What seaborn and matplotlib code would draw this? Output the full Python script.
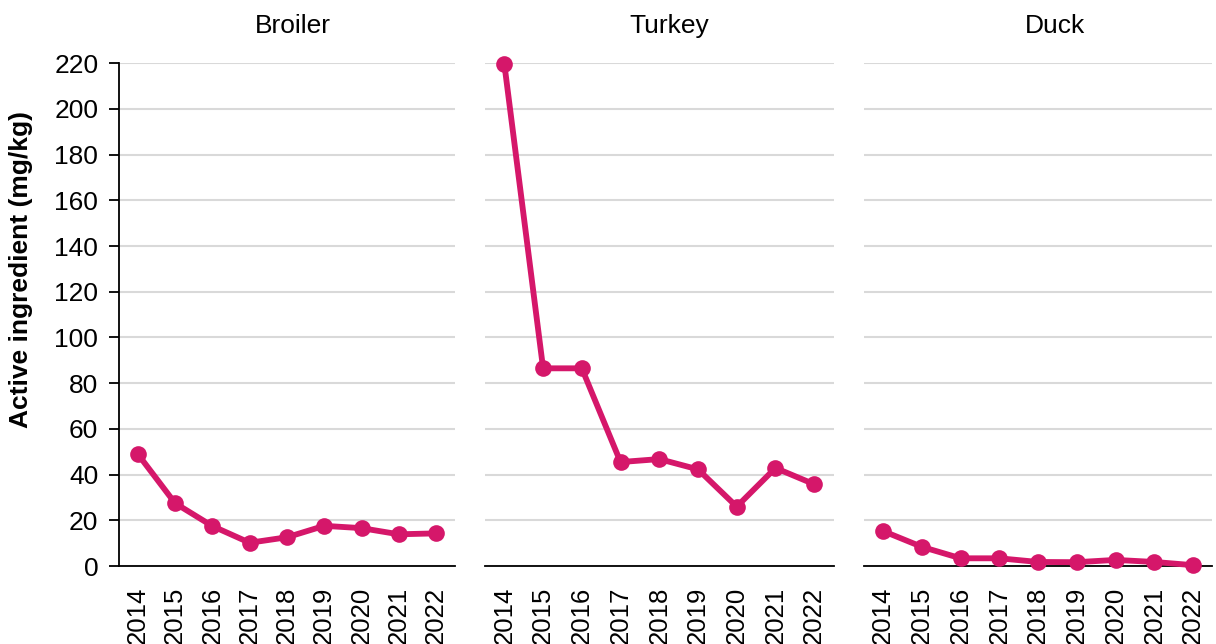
import numpy as np
import pandas as pd
import seaborn as sns
import matplotlib.pyplot as plt
from matplotlib.ticker import FixedLocator

years = [2014, 2015, 2016, 2017, 2018, 2019, 2020, 2021, 2022]
species = ['Broiler', 'Turkey', 'Duck']
broiler = [49.0, 27.5, 17.5, 10.2, 12.6, 17.6, 16.6, 13.9, 14.3]
turkey = [219.5, 86.5, 86.5, 45.5, 46.8, 42.3, 26.0, 42.9, 35.8]
duck = [15.3, 8.4, 3.4, 3.4, 1.8, 1.7, 2.7, 1.8, 0.4]

df = pd.DataFrame({
    'year': years * 3,
    'species': np.repeat(species, len(years)),
    'mgkg': broiler + turkey + duck,
})

sns.set_style('white')
plt.rcParams['font.family'] = ['Liberation Sans', 'DejaVu Sans']
plt.rcParams['text.color'] = 'black'
plt.rcParams['xtick.color'] = 'black'
plt.rcParams['ytick.color'] = 'black'
plt.rcParams['axes.labelcolor'] = 'black'

line_col = '#D5176A'
# titles sit a little right of panel centre in the original
title_x = [0.517, 0.530, 0.548]

fig, axes = plt.subplots(1, 3, figsize=(12.16, 6.44), dpi=100, sharey=True,
                         gridspec_kw={'width_ratios': [336, 349, 349]})
fig.subplots_adjust(left=0.098, right=0.997, bottom=0.121, top=0.902, wspace=0.088)

for ax, sp, tx in zip(axes, species, title_x):
    sub = df[df['species'] == sp]
    ax.yaxis.grid(True, color='#D9D9D9', linewidth=1.5)
    ax.set_axisbelow(True)
    sns.lineplot(data=sub, x='year', y='mgkg', ax=ax, color=line_col,
                 linewidth=4.2, marker='o', markersize=12,
                 markeredgewidth=0, zorder=3, clip_on=False)
    ax.set_xlim(years[0] - 0.5, years[-1] + 0.5)
    ax.set_ylim(0, 220)
    ax.set_yticks(range(0, 221, 20))
    ax.set_xticks(years)
    ax.set_xticklabels([str(y) for y in years], rotation=90)
    ax.xaxis.set_minor_locator(FixedLocator([y - 0.5 for y in years] + [years[-1] + 0.5]))
    ax.tick_params(axis='x', which='major', length=0, labelsize=18.5, pad=15)
    ax.tick_params(axis='x', which='minor', length=7, width=1.3, color='black', direction='out')
    ax.tick_params(axis='y', labelsize=19)
    ax.set_title(sp, fontsize=19, pad=22, x=tx)
    ax.set_xlabel('')
    ax.set_ylabel('')
    for s in ['top', 'right', 'left']:
        ax.spines[s].set_visible(False)
    ax.spines['bottom'].set_color('black')
    ax.spines['bottom'].set_linewidth(1.3)

axes[0].spines['left'].set_visible(True)
axes[0].spines['left'].set_color('black')
axes[0].spines['left'].set_linewidth(1.3)
axes[0].tick_params(axis='y', which='major', length=7, width=1.3, color='black',
                    direction='out', left=True, pad=8)
for ax in axes[1:]:
    ax.tick_params(axis='y', left=False, labelleft=False)

axes[0].set_ylabel('Active ingredient (mg/kg)', fontsize=19, fontweight='bold')
axes[0].yaxis.set_label_coords(-0.258, 0.59)

fig.savefig('out.png', dpi=100)
